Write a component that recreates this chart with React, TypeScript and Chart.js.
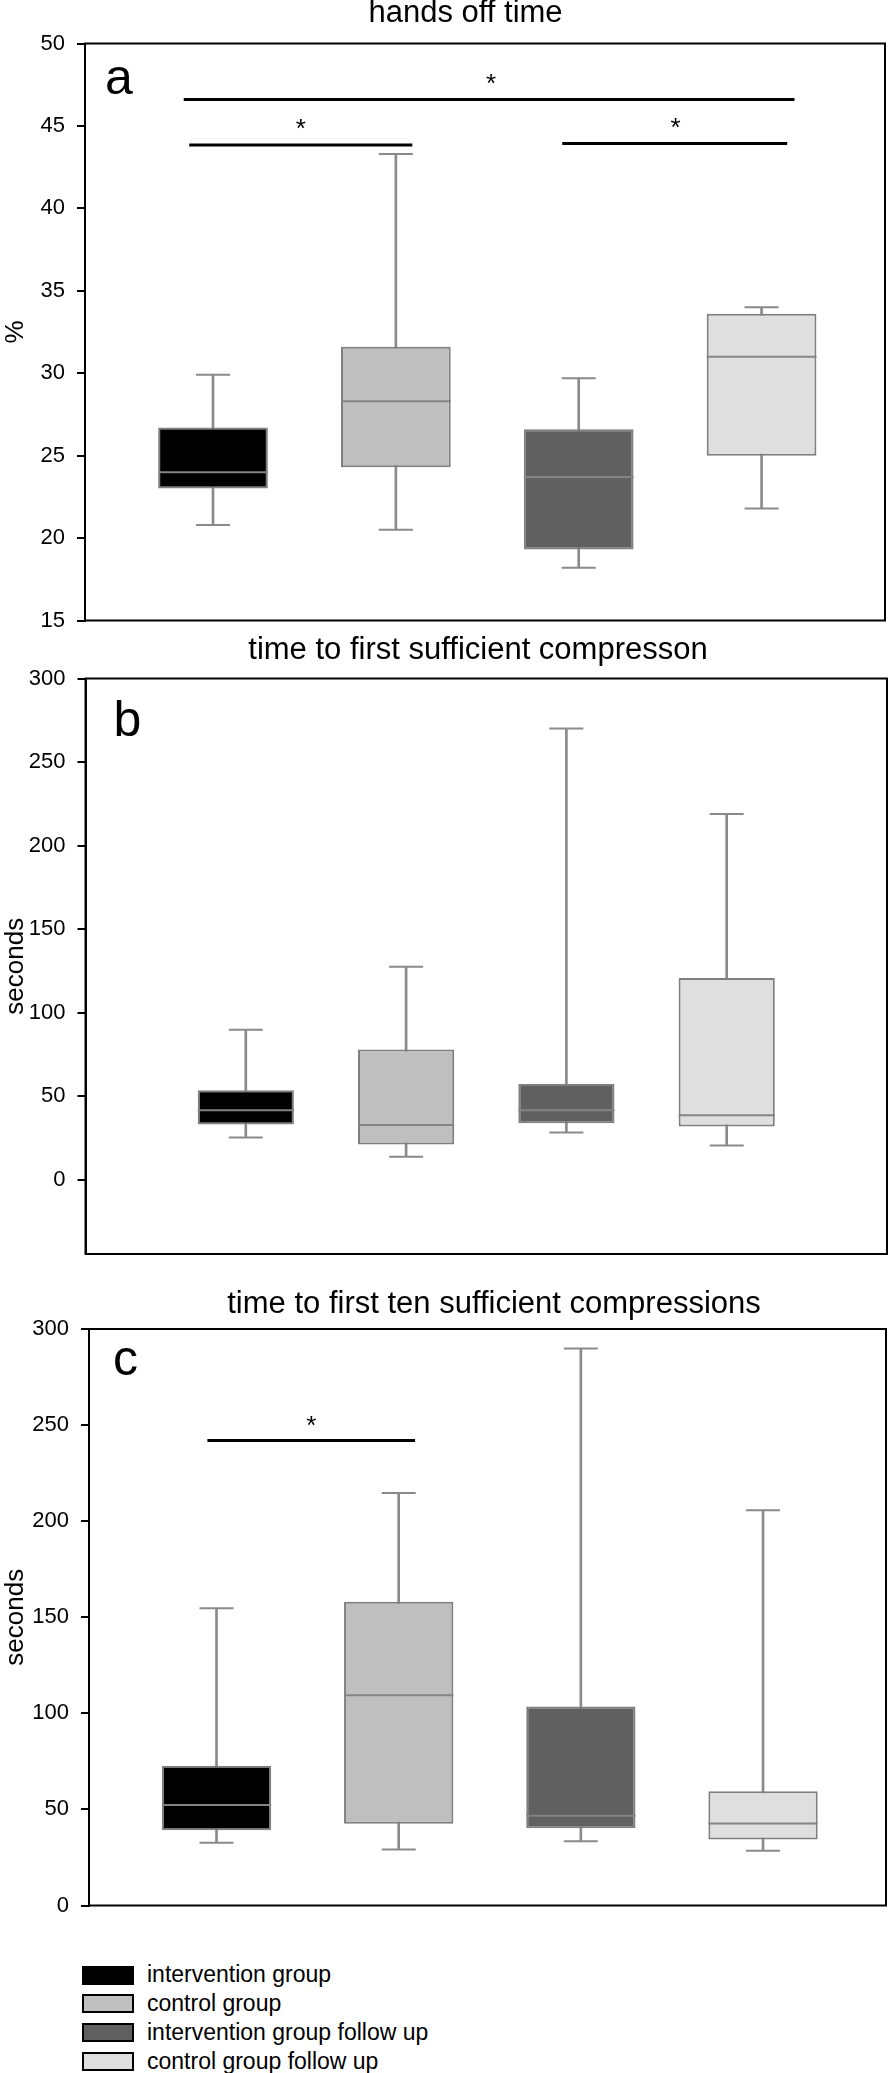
import React, { useEffect, useRef } from "react";
import { Chart, registerables } from "chart.js";

Chart.register(...registerables);

const FONT = "'Liberation Sans', Arial, Helvetica, sans-serif";

// ---------- shared categories ----------
const groupLabels = [
  "intervention group",
  "control group",
  "intervention group follow up",
  "control group follow up",
];
const groupX = [1, 2, 3, 4];
const groupFills = ["#000000", "#bfbfbf", "#606060", "#dfdfdf"];

// ---------- panel a: hands off time (%) ----------
const handsOffMin = [20.8, 20.5, 18.2, 21.8];
const handsOffQ1 = [23.0, 24.3, 19.3, 25.0];
const handsOffMedian = [24.0, 28.3, 23.7, 31.0];
const handsOffQ3 = [26.7, 31.6, 26.6, 33.6];
const handsOffMax = [29.9, 43.3, 29.7, 34.0];
// [from x, to x, y]
const handsOffSigBars = [
  [0.84, 4.18, 46.6],
  [0.87, 2.09, 43.85],
  [2.91, 4.14, 43.93],
];
// [x, y]
const handsOffStars = [
  [2.52, 47.86],
  [1.48, 45.14],
  [3.53, 45.2],
];

// ---------- panel b: time to first sufficient compression (s) ----------
const firstCompMin = [25.2, 13.7, 28.3, 20.5];
const firstCompQ1 = [33.0, 21.0, 33.7, 31.8];
const firstCompMedian = [41.5, 32.7, 41.5, 38.6];
const firstCompQ3 = [53.5, 77.9, 57.2, 120.7];
const firstCompMax = [89.7, 127.5, 270.0, 218.9];
const firstCompSigBars: number[][] = [];
const firstCompStars: number[][] = [];

// ---------- panel c: time to first ten sufficient compressions (s) ----------
const firstTenMin = [32.7, 29.1, 33.4, 28.5];
const firstTenQ1 = [39.1, 42.5, 40.2, 34.4];
const firstTenMedian = [52.3, 109.4, 46.7, 42.7];
const firstTenQ3 = [72.7, 158.1, 103.5, 59.5];
const firstTenMax = [154.7, 214.6, 289.8, 205.7];
const firstTenSigBars = [[0.95, 2.09, 242]];
const firstTenStars = [[1.52, 252.2]];

const panels = [
  {
    title: "hands off time",
    yTitle: "%",
    letter: "a",
    yMin: 15,
    yMax: 50,
    yStep: 5,
    min: handsOffMin,
    q1: handsOffQ1,
    median: handsOffMedian,
    q3: handsOffQ3,
    max: handsOffMax,
    sigBars: handsOffSigBars,
    stars: handsOffStars,
    layout: {
      chartLeft: 85, chartRight: 885, chartTop: 43.5, chartBottom: 620.5,
      titleX: 465.5, titleBaseline: 24.5, xMin: 0.3, xMax: 4.675,
      letterDx: 20, letterDy: 50.5,
    },
  },
  {
    title: "time to first sufficient compresson",
    yTitle: "seconds",
    letter: "b",
    yMin: -44.5,
    yMax: 300,
    yStep: 50,
    min: firstCompMin,
    q1: firstCompQ1,
    median: firstCompMedian,
    q3: firstCompQ3,
    max: firstCompMax,
    sigBars: firstCompSigBars,
    stars: firstCompStars,
    layout: {
      chartLeft: 85.5, chartRight: 887, chartTop: 678.5, chartBottom: 1254,
      titleX: 478, titleBaseline: 661, xMin: 0, xMax: 5,
      letterDx: 28, letterDy: 57,
    },
  },
  {
    title: "time to first ten sufficient compressions",
    yTitle: "seconds",
    letter: "c",
    yMin: 0,
    yMax: 300,
    yStep: 50,
    min: firstTenMin,
    q1: firstTenQ1,
    median: firstTenMedian,
    q3: firstTenQ3,
    max: firstTenMax,
    sigBars: firstTenSigBars,
    stars: firstTenStars,
    layout: {
      chartLeft: 89, chartRight: 886, chartTop: 1329, chartBottom: 1905.5,
      titleX: 494, titleBaseline: 1315, xMin: 0.3, xMax: 4.675,
      letterDx: 24, letterDy: 46,
    },
  },
];

const TITLE_SIZE = 31;

function BoxPanel({ p }: { p: any }) {
  const ref = useRef<HTMLCanvasElement>(null);
  const L = p.layout;
  const titleMiddle = L.titleBaseline - 0.35 * TITLE_SIZE;
  const canvasTop = Math.round(titleMiddle - TITLE_SIZE / 2 - 2);
  const padTop = titleMiddle - TITLE_SIZE / 2 - canvasTop;
  const padBottom = L.chartTop - canvasTop - padTop - TITLE_SIZE;
  const canvasW = Math.round(2 * L.titleX);
  const canvasH = Math.ceil(L.chartBottom + 30 - canvasTop);
  const layoutBottom = canvasTop + canvasH - L.chartBottom;

  useEffect(() => {
    const spacingPx = (L.chartRight - L.chartLeft) / (L.xMax - L.xMin);
    const boxHalf = 0.3 * spacingPx;

    const decor = {
      id: "decor",
      afterDatasetsDraw(chart: any) {
        const { ctx, chartArea: a, scales } = chart;
        const xs = scales.x;
        const ys = scales.y;
        ctx.save();
        ctx.strokeStyle = "#000";
        ctx.lineWidth = 2;
        ctx.strokeRect(a.left, a.top, a.right - a.left, a.bottom - a.top);
        ctx.fillStyle = "#000";
        ctx.font = `50px ${FONT}`;
        ctx.textAlign = "left";
        ctx.textBaseline = "alphabetic";
        ctx.fillText(p.letter, a.left + L.letterDx, a.top + L.letterDy);
        ctx.font = `26px ${FONT}`;
        ctx.textAlign = "center";
        const m = ctx.measureText("*");
        const shift = (m.actualBoundingBoxAscent - m.actualBoundingBoxDescent) / 2;
        p.stars.forEach((s: number[]) => {
          ctx.fillText("*", xs.getPixelForValue(s[0]), ys.getPixelForValue(s[1]) + shift);
        });
        ctx.restore();
      },
    };

    const datasets: any[] = [
      {
        type: "bar",
        label: "whiskers",
        data: groupX.map((x, i) => ({ x, y: [p.min[i], p.max[i]] })),
        backgroundColor: "#8a8a8a",
        borderWidth: 0,
        barThickness: 2,
        grouped: false,
        order: 4,
      },
      {
        type: "bar",
        label: "boxes",
        data: groupX.map((x, i) => ({ x, y: [p.q1[i], p.q3[i]] })),
        backgroundColor: groupFills,
        borderColor: "#7f7f7f",
        borderWidth: 2,
        borderSkipped: false,
        barPercentage: 0.6,
        categoryPercentage: 1,
        grouped: false,
        order: 3,
      },
      {
        type: "line",
        label: "caps",
        data: [
          ...groupX.map((x, i) => ({ x, y: p.max[i] })),
          ...groupX.map((x, i) => ({ x, y: p.min[i] })),
        ],
        showLine: false,
        pointStyle: "line",
        pointRadius: 17,
        pointBorderWidth: 2,
        pointBorderColor: "#8a8a8a",
        pointBackgroundColor: "#8a8a8a",
        order: 2,
      },
      {
        type: "line",
        label: "medians",
        data: groupX.map((x, i) => ({ x, y: p.median[i] })),
        showLine: false,
        pointStyle: "line",
        pointRadius: boxHalf,
        pointBorderWidth: 2,
        pointBorderColor: "#848484",
        pointBackgroundColor: "#848484",
        order: 1,
      },
      ...p.sigBars.map((b: number[], k: number) => ({
        type: "line",
        label: "sig" + k,
        data: [
          { x: b[0], y: b[2] },
          { x: b[1], y: b[2] },
        ],
        borderColor: "#000",
        borderWidth: 3,
        pointRadius: 0,
        order: 0,
      })),
    ];

    const chart = new Chart(ref.current as HTMLCanvasElement, {
      type: "bar",
      data: { datasets },
      options: {
        animation: false,
        responsive: false,
        devicePixelRatio: 1,
        events: [],
        layout: {
          autoPadding: false,
          padding: { left: 0, right: 0, top: 0, bottom: layoutBottom },
        },
        plugins: {
          legend: { display: false },
          tooltip: { enabled: false },
          title: {
            display: true,
            text: p.title,
            color: "#000",
            font: { family: FONT, size: TITLE_SIZE, weight: "normal", lineHeight: 1 },
            padding: { top: padTop, bottom: padBottom },
          },
        },
        scales: {
          x: {
            type: "linear",
            display: false,
            min: L.xMin,
            max: L.xMax,
            offset: false,
            afterBuildTicks: (s: any) => {
              s.ticks = groupX.map((v) => ({ value: v }));
            },
          },
          y: {
            type: "linear",
            position: "left",
            min: p.yMin,
            max: p.yMax,
            afterFit: (s: any) => {
              s.width = L.chartLeft;
            },
            ticks: {
              stepSize: p.yStep,
              includeBounds: false,
              padding: 12,
              color: "#000",
              font: { family: FONT, size: 22 },
            },
            grid: {
              drawOnChartArea: false,
              drawTicks: true,
              tickLength: 8,
              lineWidth: 2,
              color: "#000",
            },
            border: { display: true, color: "#000", width: 2 },
            title: {
              display: true,
              text: p.yTitle,
              color: "#000",
              font: { family: FONT, size: 26 },
              padding: { top: 0, bottom: 0 },
            },
          },
          yR: {
            type: "linear",
            position: "right",
            display: true,
            ticks: { display: false },
            grid: { display: false, drawTicks: false },
            border: { display: false },
            afterFit: (s: any) => {
              s.width = canvasW - L.chartRight;
            },
          },
        },
      } as any,
      plugins: [decor],
    } as any);
    return () => chart.destroy();
  }, []);

  return (
    <canvas
      ref={ref}
      width={canvasW}
      height={canvasH}
      style={{ position: "absolute", left: 0, top: canvasTop, width: canvasW, height: canvasH }}
    />
  );
}

export default function App() {
  return (
    <div
      style={{
        position: "absolute",
        left: 0,
        top: 0,
        width: 891,
        height: 2073,
        overflow: "hidden",
        background: "#fff",
        fontFamily: FONT,
      }}
    >
      {panels.map((p, i) => (
        <BoxPanel key={i} p={p} />
      ))}
      {groupLabels.map((label, i) => {
        const center = 1975 + i * 28.9;
        return (
          <React.Fragment key={label}>
            <div
              style={{
                position: "absolute",
                left: 82,
                top: center - 9.5,
                width: 52,
                height: 19,
                boxSizing: "border-box",
                border: "2px solid #000",
                background: groupFills[i],
              }}
            />
            <div
              style={{
                position: "absolute",
                left: 147,
                top: center - 14,
                fontSize: 23,
                lineHeight: "26px",
                color: "#000",
                whiteSpace: "nowrap",
              }}
            >
              {label}
            </div>
          </React.Fragment>
        );
      })}
    </div>
  );
}
